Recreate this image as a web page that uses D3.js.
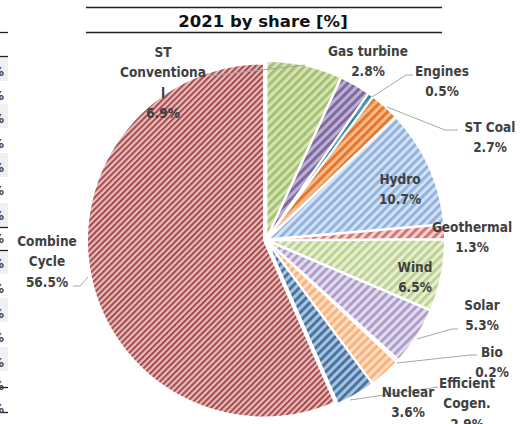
<!DOCTYPE html>
<html>
<head>
<meta charset="utf-8">
<script src="https://cdn.jsdelivr.net/npm/d3@7"></script>
<style>
  body { margin: 0; background: #fff; }
  svg { display: block; }
</style>
</head>
<body>
<div id="chart"></div>
<script>
// values
const names = ["ST Conventional", "Gas turbine", "Engines", "ST Coal", "Hydro", "Geothermal",
   "Wind", "Solar", "Bio", "Efficient Cogen.", "Nuclear", "Combine Cycle"]
const shares = [6.9, 2.8, 0.5, 2.7, 10.7, 1.3, 6.5, 5.3, 0.2, 2.9, 3.6, 56.5]
const labelLines = [["ST", "Conventiona", "l"], ["Gas turbine"], ["Engines"], ["ST Coal"], ["Hydro"],
   ["Geothermal"], ["Wind"], ["Solar"], ["Bio"], ["Efficient", "Cogen."], ["Nuclear"], ["Combine", "Cycle"]]
const title = "2021 by share [%]"

// stripe / background colours of the pattern fills
const stripeColors = ["#a3c16b", "#7d66a0", "#2f8197", "#e3762a", "#8fb2df", "#d4716f",
   "#bcd28e", "#ad9ccb", "#4bacc6", "#f9b27a", "#44729f", "#a5494c"]
const backColors = ["#d4e2b6", "#bcb0d1", "#4e9fb5", "#f7b98a", "#d4e1f2", "#f0d3d2",
   "#e6efd6", "#e3dcec", "#7cc3d6", "#fddcc2", "#a9c2df", "#e6bdbc"]

// label anchor (centre x, first line y) and leader polylines
const labelPos = [[163, 52], [368, 51], [442, 71], [490, 127], [400, 179], [472, 227],
   [415, 267], [482, 305], [492, 352], [467, 383], [408, 392], [47, 241]]
const leaders = {
   "ST Conventional": [[208, 76], [305, 65]],
   "Engines": [[413, 75], [406, 75], [372, 97]],
   "ST Coal": [[458, 130], [445, 130], [387, 107]],
   "Solar": [[458, 329], [452, 329], [417, 339]],
   "Bio": [[477, 355], [470, 355], [397, 363]],
   "Nuclear": [[350, 400], [438, 387]],
   "Combine Cycle": [[73, 286], [80, 286], [88, 277]]
}

const width = 521, height = 424
const cx = 266, cy = 240, radius = 177, explode = 2
const lineH = 20.5

const svg = d3.select("#chart").append("svg")
   .attr("width", width)
   .attr("height", height)
   .attr("viewBox", [0, 0, width, height])

// spreadsheet fragment on the left edge
const shadedRows = [57, 104, 153, 203, 250, 298, 347]
const gridLines = [32, 56, 227, 250, 387, 412]
const cellRows = [71, 95, 118, 143, 167, 190, 215, 238, 263, 288, 313, 337, 362, 385, 408]

svg.append("g").selectAll("rect")
   .data(shadedRows)
   .join("rect")
   .attr("x", 0).attr("y", d => d)
   .attr("width", 8).attr("height", 24)
   .attr("fill", "#f0f0f0")

svg.append("g").selectAll("line")
   .data(gridLines)
   .join("line")
   .attr("x1", 0).attr("x2", 8)
   .attr("y1", d => d + 0.5).attr("y2", d => d + 0.5)
   .attr("stroke", "#222").attr("stroke-width", 1.3)

svg.append("g")
   .attr("font-family", "DejaVu Sans Condensed, DejaVu Sans")
   .attr("font-weight", "bold")
   .attr("font-size", 13)
   .attr("fill", "#404040")
   .selectAll("text")
   .data(cellRows)
   .join("text")
   .attr("x", 4)
   .attr("y", d => d)
   .attr("dy", "0.35em")
   .attr("text-anchor", "end")
   .text("%")

// title with rules above and below
svg.append("line")
   .attr("x1", 86).attr("x2", 442).attr("y1", 7.5).attr("y2", 7.5)
   .attr("stroke", "#222").attr("stroke-width", 1.5)
svg.append("line")
   .attr("x1", 86).attr("x2", 442).attr("y1", 32.5).attr("y2", 32.5)
   .attr("stroke", "#222").attr("stroke-width", 1.5)
svg.append("text")
   .attr("x", 263).attr("y", 27)
   .attr("text-anchor", "middle")
   .attr("font-family", "DejaVu Sans")
   .attr("font-weight", "bold")
   .attr("font-size", 16.5)
   .attr("fill", "#111")
   .text(title)

// stripe patterns
const defs = svg.append("defs")
names.forEach((n, i) => {
   const size = i === names.length - 1 ? 4.2 : 6
   const p = defs.append("pattern")
      .attr("id", "pat" + i)
      .attr("patternUnits", "userSpaceOnUse")
      .attr("width", size).attr("height", size)
      .attr("patternTransform", "rotate(45)")
   p.append("rect").attr("width", size).attr("height", size).attr("fill", backColors[i])
   p.append("rect").attr("width", size * 0.48).attr("height", size).attr("fill", stripeColors[i])
})

const pie = d3.pie().sort(null).value(d => d)
const arcs = pie(shares)
const arc = d3.arc().innerRadius(0).outerRadius(radius)

svg.append("g")
   .attr("transform", `translate(${cx},${cy})`)
   .selectAll("path")
   .data(arcs)
   .join("path")
   .attr("transform", d => {
      const a = (d.startAngle + d.endAngle) / 2
      return `translate(${explode * Math.sin(a)},${-explode * Math.cos(a)})`
   })
   .attr("d", arc)
   .attr("fill", (d, i) => `url(#pat${i})`)
   .attr("stroke", "#fff")
   .attr("stroke-width", 2)
   .attr("stroke-linejoin", "round")

// leader lines
svg.append("g")
   .attr("fill", "none")
   .attr("stroke", "#a6a6a6")
   .attr("stroke-width", 1)
   .selectAll("path")
   .data(Object.values(leaders))
   .join("path")
   .attr("d", d3.line())

// data labels
const fmt = d3.format(".1f")
const lab = svg.append("g")
   .attr("font-family", "DejaVu Sans Condensed, DejaVu Sans")
   .attr("font-weight", "bold")
   .attr("font-size", 13.5)
   .attr("fill", "#404040")
   .attr("text-anchor", "middle")
   .selectAll("text")
   .data(names)
   .join("text")
   .attr("x", (d, i) => labelPos[i][0])
   .attr("y", (d, i) => labelPos[i][1])

lab.selectAll("tspan")
   .data((d, i) => labelLines[i].concat([fmt(shares[i]) + "%"]).map(t => ({ t, x: labelPos[i][0] })))
   .join("tspan")
   .attr("x", d => d.x)
   .attr("dy", (d, j) => j === 0 ? "0.35em" : lineH)
   .text(d => d.t)
</script>
</body>
</html>
